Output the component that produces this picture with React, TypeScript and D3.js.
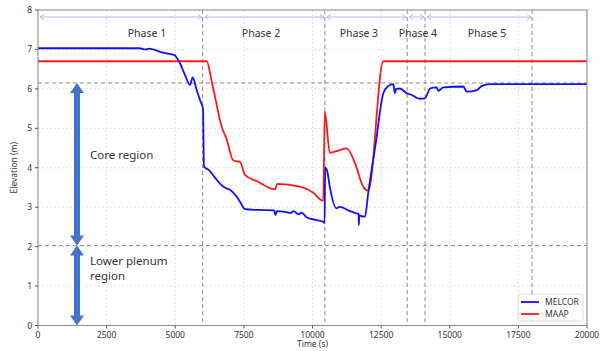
import React from "react";
import * as d3 from "d3";

const xTicks = [0, 2500, 5000, 7500, 10000, 12500, 15000, 17500, 20000];
const yTicks = [0, 1, 2, 3, 4, 5, 6, 7, 8];
const phaseBounds = [0, 6000, 10450, 13450, 14100, 18000];
const phaseLabels = ["Phase 1", "Phase 2", "Phase 3", "Phase 4", "Phase 5"];
const phaseLabelX = [3970, 8125, 11690, 13840, 16355];
const regionLines = [6.15, 2.03];

const melcorT = [0, 3700, 3900, 4050, 4200, 4444, 4690, 4965, 5173, 5356, 5537, 5635, 5781, 5900, 5985, 6010, 6047, 6229, 6450, 6630, 6800, 6994, 7200, 7360, 7540, 8000, 8600, 8650, 8700, 9000, 9200, 9300, 9500, 9600, 9790, 10100, 10390, 10440, 10460, 10540, 10630, 10870, 11000, 11300, 11610, 11680, 11690, 11700, 11755, 11910, 12035, 12300, 12580, 12760, 12945, 13000, 13050, 13180, 13430, 13600, 13730, 13900, 14100, 14200, 14280, 14525, 14580, 14765, 15495, 15620, 15985, 16160, 16465, 20000];
const melcorY = [7.03, 7.03, 7.0, 7.02, 7.0, 6.94, 6.9, 6.86, 6.65, 6.35, 6.1, 6.29, 5.97, 5.72, 5.57, 5.5, 4.03, 3.94, 3.75, 3.6, 3.5, 3.44, 3.3, 3.14, 2.95, 2.93, 2.92, 2.8, 2.9, 2.88, 2.85, 2.9, 2.82, 2.86, 2.74, 2.68, 2.63, 2.6, 4.0, 3.9, 3.52, 2.97, 3.01, 2.92, 2.84, 2.82, 2.55, 2.8, 2.78, 2.76, 3.39, 4.6, 5.89, 6.07, 6.12, 5.89, 6.0, 6.01, 5.89, 5.85, 5.8, 5.75, 5.76, 5.9, 6.01, 6.04, 5.95, 6.04, 6.06, 5.93, 5.97, 6.07, 6.12, 6.12];

const maapT = [0, 6145, 6340, 6710, 6870, 7100, 7250, 7360, 7540, 8000, 8630, 8720, 9545, 10000, 10390, 10450, 10630, 11000, 11245, 11550, 11850, 12035, 12580, 20000];
const maapY = [6.7, 6.7, 6.15, 5.0, 4.73, 4.2, 4.16, 4.15, 3.82, 3.65, 3.45, 3.59, 3.52, 3.38, 3.16, 5.42, 4.38, 4.45, 4.49, 4.11, 3.52, 3.42, 6.7, 6.7];

const W = 605, H = 351;
const M = { left: 38, right: 587, top: 10, bottom: 325.5 };
const font = "'Noto Sans', 'DejaVu Sans', sans-serif";

export default function App() {
  const x = d3.scaleLinear().domain([0, 20000]).range([M.left, M.right]);
  const y = d3.scaleLinear().domain([0, 8]).range([M.bottom, M.top]);
  const mk = (ts: number[], vs: number[]) =>
    d3.line<number>().x((t) => x(t)).y((_, i) => y(vs[i])).curve(d3.curveMonotoneX)(ts) || "";

  const arrowX = x(1420);
  const dblArrow = (yTop: number, yBot: number) => {
    const hw = 7, sw = 3, hl = 10;
    const t = y(yTop), b = y(yBot);
    const pts = [
      [arrowX, t], [arrowX + hw, t + hl], [arrowX + sw, t + hl], [arrowX + sw, b - hl], [arrowX + hw, b - hl],
      [arrowX, b], [arrowX - hw, b - hl], [arrowX - sw, b - hl], [arrowX - sw, t + hl], [arrowX - hw, t + hl],
    ];
    return "M" + pts.map((p) => p.join(",")).join("L") + "Z";
  };

  const phaseY = 17;
  return (
    <svg width={W} height={H} style={{ position: "absolute", left: 0, top: 0, background: "#fff" }}>
      <defs>
        <clipPath id="plot">
          <rect x={M.left} y={M.top} width={M.right - M.left} height={M.bottom - M.top} />
        </clipPath>
      </defs>
      {xTicks.map((t) => (
        <line key={"gx" + t} x1={x(t)} x2={x(t)} y1={M.top} y2={M.bottom} stroke="#d8d8d8" strokeWidth={0.8} strokeDasharray="2,2" />
      ))}
      {yTicks.map((t) => (
        <line key={"gy" + t} x1={M.left} x2={M.right} y1={y(t)} y2={y(t)} stroke="#d8d8d8" strokeWidth={0.8} strokeDasharray="2,2" />
      ))}
      {phaseBounds.slice(1).map((t) => (
        <line key={"pb" + t} x1={x(t)} x2={x(t)} y1={M.top} y2={M.bottom} stroke="#8c8c8c" strokeWidth={1} strokeDasharray="4,3" />
      ))}
      {regionLines.map((v) => (
        <line key={"rl" + v} x1={M.left} x2={M.right} y1={y(v)} y2={y(v)} stroke="#8c8c8c" strokeWidth={1} strokeDasharray="4,3" />
      ))}
      {phaseLabels.map((lab, i) => {
        const a = x(phaseBounds[i]) + 2, b = x(phaseBounds[i + 1]) - 1;
        return (
          <g key={lab}>
            <line x1={a} x2={b} y1={phaseY} y2={phaseY} stroke="#9dbbe8" strokeWidth={0.9} />
            <path d={`M${a + 4},${phaseY - 2.5}L${a},${phaseY}L${a + 4},${phaseY + 2.5}`} fill="none" stroke="#9dbbe8" strokeWidth={0.9} />
            <path d={`M${b - 4},${phaseY - 2.5}L${b},${phaseY}L${b - 4},${phaseY + 2.5}`} fill="none" stroke="#9dbbe8" strokeWidth={0.9} />
            <text x={x(phaseLabelX[i])} y={37} textAnchor="middle" fontSize={10.5} fill="#333" fontFamily={font}>{lab}</text>
          </g>
        );
      })}
      <g clipPath="url(#plot)">
        <path d={mk(maapT, maapY)} fill="none" stroke="#ff1a1a" strokeWidth={1.8} strokeLinejoin="round" />
        <path d={mk(melcorT, melcorY)} fill="none" stroke="#1010ff" strokeWidth={1.8} strokeLinejoin="round" />
      </g>
      <path d={dblArrow(6.15, 2.03)} fill="#4472c4" />
      <path d={dblArrow(2.03, 0)} fill="#4472c4" />
      <text x={90} y={159} fontSize={11.5} fill="#333" fontFamily={font}>Core region</text>
      <text x={90} y={265} fontSize={11.5} fill="#333" fontFamily={font}>Lower plenum</text>
      <text x={90} y={280} fontSize={11.5} fill="#333" fontFamily={font}>region</text>
      <rect x={M.left} y={M.top} width={M.right - M.left} height={M.bottom - M.top} fill="none" stroke="#8a8a8a" strokeWidth={1} />
      {xTicks.map((t) => (
        <g key={"tx" + t}>
          <line x1={x(t)} x2={x(t)} y1={M.bottom} y2={M.bottom + 3} stroke="#555" />
          <text x={x(t)} y={M.bottom + 12} textAnchor="middle" fontSize={8.5} fill="#333" fontFamily={font}>{t}</text>
        </g>
      ))}
      {yTicks.map((t) => (
        <g key={"ty" + t}>
          <line x1={M.left - 3} x2={M.left} y1={y(t)} y2={y(t)} stroke="#555" />
          <text x={M.left - 6} y={y(t) + 3} textAnchor="end" fontSize={8.5} fill="#333" fontFamily={font}>{t}</text>
        </g>
      ))}
      <text x={(M.left + M.right) / 2} y={347} textAnchor="middle" fontSize={8.5} fill="#333" fontFamily={font}>Time (s)</text>
      <text transform={`translate(17,${(M.top + M.bottom) / 2}) rotate(-90)`} textAnchor="middle" fontSize={8.5} fill="#333" fontFamily={font}>Elevation (m)</text>
      <rect x={518} y={294} width={65} height={27} rx={2} fill="#fff" stroke="#d0d0d0" strokeWidth={0.8} />
      <line x1={521} x2={539} y1={302} y2={302} stroke="#1010ff" strokeWidth={1.8} />
      <text x={545} y={305} fontSize={8.5} fill="#333" fontFamily={font}>MELCOR</text>
      <line x1={521} x2={539} y1={314} y2={314} stroke="#ff1a1a" strokeWidth={1.8} />
      <text x={545} y={317} fontSize={8.5} fill="#333" fontFamily={font}>MAAP</text>
    </svg>
  );
}
